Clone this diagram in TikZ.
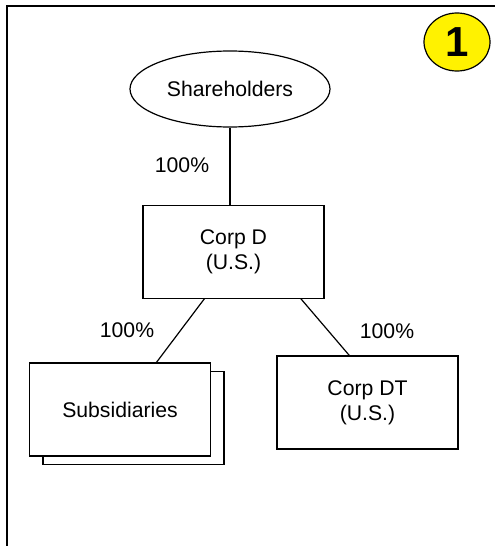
\documentclass[tikz,border=0pt]{standalone}
\usepackage{fontspec}
\setmainfont{Liberation Sans}
\usetikzlibrary{calc,positioning,shapes.geometric}

\begin{document}
\begin{tikzpicture}[
	x=0.5pt,y=-0.5pt,
	font=\fontsize{10.6}{12.6}\selectfont,
	linie/.style={
	draw=black,line width=0.6pt,
	},
	firma/.style={
	draw=black,line width=0.6pt,fill=white,align=center,
	minimum width=90.5pt,minimum height=46.5pt,inner sep=0pt,
	}
	]

\useasboundingbox (0,0) rectangle (495,546);
\draw [line width=1pt] (7,546) -- (7,6) -- (495,6);

\node[ellipse, linie, minimum width=100pt, minimum height=38pt, inner sep=0pt] (share) at (230,89) {Shareholders};
\node[firma, below=38.5pt of share, xshift=1.75pt] (corpd) {Corp D\\(U.S.)};

\node[firma] (subsback) at (133.5,418) {};
\node[firma] (subs) at (120,409.5) {Subsidiaries};
\node[firma] (corpdt) at (367.5,402.5) {Corp DT\\(U.S.)};

\node (pshare) at (182,165) {100\%};
\node (psubs) at (127,330) {100\%};
\node (pcorpdt) at (387,331) {100\%};

\node[ellipse, draw=black, line width=0.6pt, fill=yellow, minimum width=33pt, minimum height=29pt, inner sep=0pt, font=\fontsize{21}{21}\selectfont\bfseries] (nummer) at (457,42) {1};

\draw [linie] (share.south) to (share.south |- corpd.north);
\draw [linie] ($(corpd.south west)!.34!(corpd.south east)$) to ($(subs.north west)!.7!(subs.north east)$);
\draw [linie] ($(corpd.south west)!.87!(corpd.south east)$) to ($(corpdt.north west)!.4!(corpdt.north east)$);

\end{tikzpicture}
\end{document}
